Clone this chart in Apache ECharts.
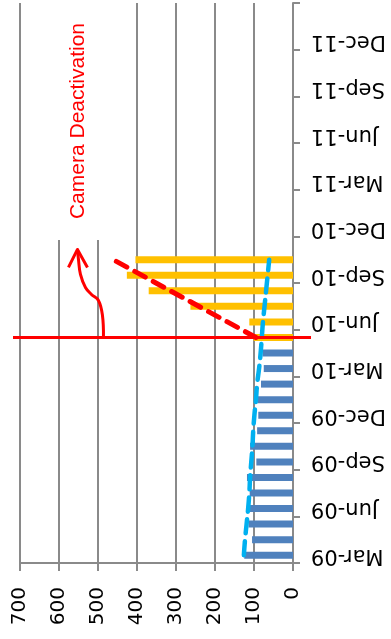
<!DOCTYPE html>
<html>
<head>
<meta charset="utf-8">
<script src="https://cdn.jsdelivr.net/npm/echarts@6/dist/echarts.min.js"></script>
<style>html,body{margin:0;padding:0;background:#fff;}#c{width:391px;height:639px;}</style>
</head>
<body>
<div id="c"></div>
<script>
const months = ['Mar-09','Apr-09','May-09','Jun-09','Jul-09','Aug-09','Sep-09','Oct-09','Nov-09','Dec-09',
  'Jan-10','Feb-10','Mar-10','Apr-10','May-10','Jun-10','Jul-10','Aug-10','Sep-10','Oct-10','Nov-10','Dec-10',
  'Jan-11','Feb-11','Mar-11','Apr-11','May-11','Jun-11','Jul-11','Aug-11','Sep-11','Oct-11','Nov-11','Dec-11',
  'Jan-12','Feb-12'];
const beforeValues = [125,105,114,112,111,118,94,110,92,89,91,82,75,78];
const afterMonths = ['May-10','Jun-10','Jul-10','Aug-10','Sep-10','Oct-10'];
const afterValues = [101,112,263,370,426,404];
const beforeTrend = [126,123,119,115,112,110,107,104,102,99,95,92,87,83,80,77,73,69,65,61];
const afterTrendMonths = ['May-10','Oct-10'];
const afterTrendValues = [95,461];
const valueTicks = [0,100,200,300,400,500,600,700];
const deactivationMonth = 'May-10';
const annotationText = 'Camera Deactivation';

const blueBars = months.map((m,i)=> i < beforeValues.length ? beforeValues[i] : '-');
const yellowBars = months.map(m => { const k = afterMonths.indexOf(m); return k >= 0 ? afterValues[k] : '-'; });
const blueTrendData = beforeTrend.map((v,i)=>[v, months[i]]);
const redTrendData = afterTrendMonths.map((m,i)=>[afterTrendValues[i], m]);

const gray = '#8a8a8a';
const chart = echarts.init(document.getElementById('c'));
chart.setOption({
  animation: false,
  grid: {left: 20, right: 98, top: 3, bottom: 76},
  xAxis: {
    type: 'value', inverse: true, position: 'bottom',
    min: valueTicks[0], max: valueTicks[valueTicks.length-1], interval: 100,
    axisLine: {show: true, lineStyle: {color: gray, width: 2}},
    axisTick: {show: true, length: 8, lineStyle: {color: gray, width: 2}},
    splitLine: {show: true, lineStyle: {color: gray, width: 2}},
    axisLabel: {rotate: 90, margin: 24, color: '#000', fontFamily: 'DejaVu Sans', fontSize: 20}
  },
  yAxis: {
    type: 'category', position: 'right', data: months,
    axisLine: {show: true, lineStyle: {color: gray, width: 2}},
    axisTick: {show: true, interval: 2, length: 7, lineStyle: {color: gray, width: 2}},
    axisLabel: {interval: 2, rotate: 180, margin: 18, color: '#000', fontFamily: 'DejaVu Sans', fontSize: 21},
    splitLine: {show: false}
  },
  series: [
    {type: 'bar', data: blueBars, barWidth: 7, barGap: '-100%', itemStyle: {color: '#4F81BD'}, z: 2},
    {type: 'bar', data: yellowBars, barWidth: 7, barGap: '-100%', itemStyle: {color: '#FFC000'}, z: 2},
    {type: 'line', data: blueTrendData, smooth: true, symbol: 'none', z: 4,
      lineStyle: {color: '#00B0F0', width: 4.5, type: [14, 8], cap: 'round'}},
    {type: 'line', data: redTrendData, symbol: 'none', z: 4,
      lineStyle: {color: '#FF0000', width: 5, type: [12, 9], cap: 'round'}}
  ]
});

const y0 = chart.convertToPixel({yAxisIndex: 0}, deactivationMonth);
const xA = chart.convertToPixel({xAxisIndex: 0}, 486);
chart.setOption({
  graphic: [
    {type: 'rect', z: 1, silent: true, shape: {x: 32, y: 0, width: 86, height: 240}, style: {fill: '#fff'}},
    {type: 'line', z: 10, shape: {x1: 13, y1: y0, x2: 311, y2: y0}, style: {stroke: '#FF0000', lineWidth: 3}},
    {type: 'polyline', z: 10, shape: {smooth: 0.4, points: [
      [xA, y0], [xA-1, y0-22], [xA-5, y0-37], [xA-12, y0-43], [xA-18, y0-50], [xA-23, y0-63], [xA-25, y0-78], [xA-26, y0-88]
    ]}, style: {stroke: '#FF0000', lineWidth: 3, fill: null}},
    {type: 'polyline', z: 10, shape: {points: [[xA-35, y0-70], [xA-26, y0-88], [xA-16, y0-70]]},
      style: {stroke: '#FF0000', lineWidth: 3, fill: null, lineJoin: 'round'}},
    {type: 'text', z: 10, x: 78, y: 121, rotation: Math.PI/2,
      style: {text: annotationText, fill: '#FF0000', font: '21px "Liberation Sans", Arial, sans-serif', align: 'center', verticalAlign: 'middle'}}
  ]
});
</script>
</body>
</html>
